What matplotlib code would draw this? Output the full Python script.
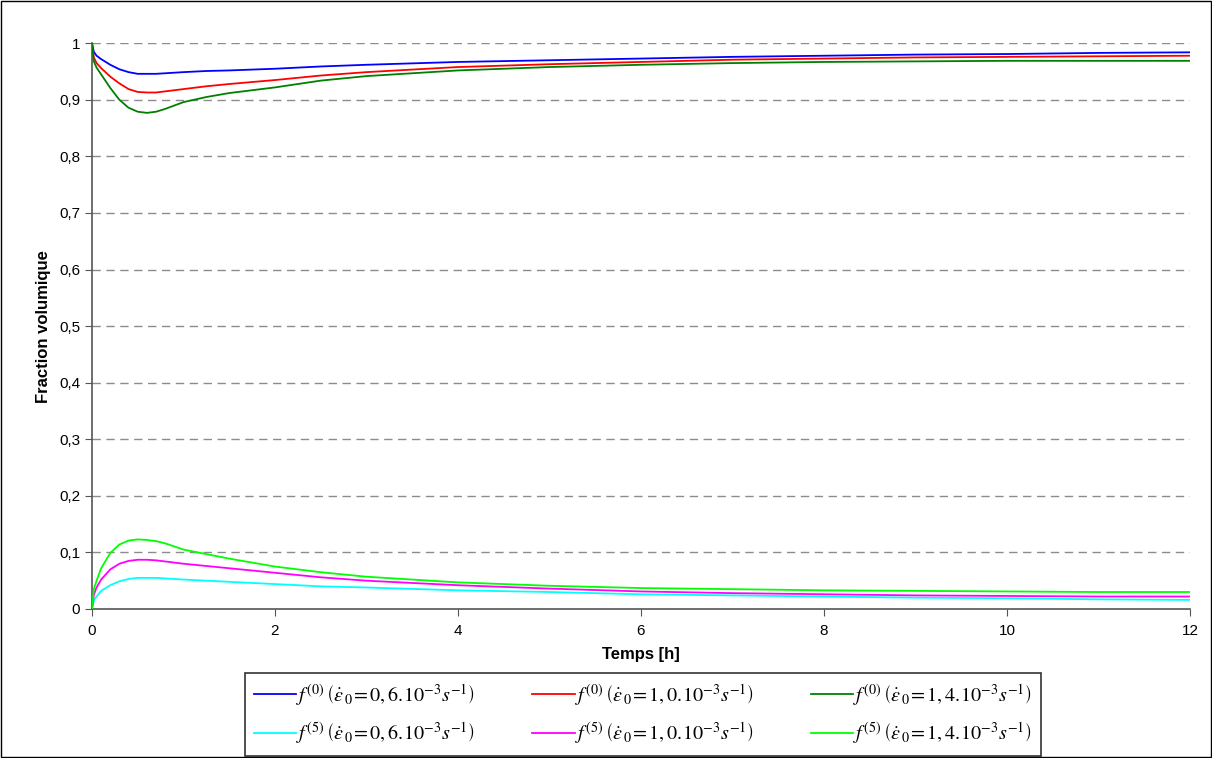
import matplotlib
matplotlib.use("Agg")
import matplotlib.pyplot as plt
import matplotlib.patches as mpatches

plt.rcParams['font.family'] = ['Liberation Sans', 'DejaVu Sans']
plt.rcParams['mathtext.fontset'] = 'stix'

# time in hours
temps = [0, 0.02, 0.05, 0.1, 0.2, 0.3, 0.4, 0.5, 0.6, 0.7, 0.8, 1.0, 1.25, 1.5,
         2, 2.5, 3, 4, 5, 6, 7, 8, 9, 10, 11, 12]

# volume fraction f(0)
f0_06 = [1.0, 0.985, 0.978, 0.972, 0.962, 0.954, 0.949, 0.946, 0.946, 0.946,
         0.947, 0.949, 0.951, 0.952, 0.955, 0.959, 0.962, 0.967, 0.970, 0.973,
         0.976, 0.978, 0.980, 0.981, 0.983, 0.984]
f0_10 = [1.0, 0.975, 0.965, 0.956, 0.941, 0.929, 0.919, 0.914, 0.913, 0.913,
         0.915, 0.919, 0.924, 0.928, 0.935, 0.943, 0.949, 0.958, 0.963, 0.967,
         0.971, 0.973, 0.975, 0.976, 0.977, 0.978]
f0_14 = [1.0, 0.968, 0.957, 0.945, 0.921, 0.900, 0.886, 0.879, 0.877, 0.879,
         0.884, 0.896, 0.905, 0.912, 0.922, 0.934, 0.942, 0.952, 0.958, 0.962,
         0.965, 0.967, 0.968, 0.969, 0.969, 0.969]

# volume fraction f(5)
f5_06 = [0, 0.015, 0.022, 0.032, 0.042, 0.049, 0.053, 0.055, 0.055, 0.055,
         0.054, 0.052, 0.050, 0.048, 0.044, 0.040, 0.038, 0.033, 0.030, 0.026,
         0.024, 0.022, 0.020, 0.019, 0.017, 0.016]
f5_10 = [0, 0.025, 0.038, 0.052, 0.070, 0.080, 0.085, 0.087, 0.087, 0.086,
         0.084, 0.080, 0.076, 0.072, 0.064, 0.056, 0.050, 0.042, 0.036, 0.031,
         0.028, 0.026, 0.024, 0.023, 0.022, 0.022]
f5_14 = [0, 0.035, 0.050, 0.072, 0.099, 0.114, 0.121, 0.123, 0.122, 0.120,
         0.116, 0.105, 0.097, 0.089, 0.075, 0.065, 0.057, 0.047, 0.041, 0.037,
         0.035, 0.033, 0.032, 0.031, 0.030, 0.030]

labels = [
    r'$f^{(0)}\,\left(\dot{\epsilon}_{\,0}\!=0,6.10^{-3}s^{-1}\right)$',
    r'$f^{(5)}\,\left(\dot{\epsilon}_{\,0}\!=0,6.10^{-3}s^{-1}\right)$',
    r'$f^{(0)}\,\left(\dot{\epsilon}_{\,0}\!=1,0.10^{-3}s^{-1}\right)$',
    r'$f^{(5)}\,\left(\dot{\epsilon}_{\,0}\!=1,0.10^{-3}s^{-1}\right)$',
    r'$f^{(0)}\,\left(\dot{\epsilon}_{\,0}\!=1,4.10^{-3}s^{-1}\right)$',
    r'$f^{(5)}\,\left(\dot{\epsilon}_{\,0}\!=1,4.10^{-3}s^{-1}\right)$',
]
series = [f0_06, f5_06, f0_10, f5_10, f0_14, f5_14]
colors = ['#0000ff', '#00ffff', '#ff0000', '#ff00ff', '#008000', '#00ff00']

yticks = [0, 0.1, 0.2, 0.3, 0.4, 0.5, 0.6, 0.7, 0.8, 0.9, 1.0]
ytick_labels = ['0', '0,1', '0,2', '0,3', '0,4', '0,5', '0,6', '0,7', '0,8', '0,9', '1']
xticks = [0, 2, 4, 6, 8, 10, 12]

fig = plt.figure(figsize=(12.12, 7.58), dpi=100)
ax = fig.add_axes([0.0759, 0.1966, 0.9059, 0.7463])

# dashed grid lines first so curves sit on top
for y in yticks[1:]:
    ax.axhline(y, color='#8c8c8c', linestyle=(0, (6, 4)), linewidth=1.0, zorder=1)

for vals, col, lab in zip(series, colors, labels):
    ax.plot(temps, vals, color=col, linewidth=1.3, label=lab, zorder=3)

ax.set_xlim(0, 12)
ax.set_ylim(0, 1)
ax.set_xticks(xticks)
ax.set_yticks(yticks)
ax.set_yticklabels(ytick_labels)
ax.tick_params(labelsize=11, length=5, color='#555555', direction='out')
ax.tick_params(axis='x', pad=6)

for side in ['top', 'right']:
    ax.spines[side].set_visible(False)
for side in ['left', 'bottom']:
    ax.spines[side].set_color('#555555')
    ax.spines[side].set_linewidth(1.2)

ax.set_xlabel('Temps [h]', fontsize=12, fontweight='bold', labelpad=6)
ax.set_ylabel('Fraction volumique', fontsize=12, fontweight='bold', labelpad=6)

leg = fig.legend(loc='center', bbox_to_anchor=(0.5305, 0.0574), ncol=3,
                 fontsize=14.5, handlelength=2.1, handletextpad=0.0,
                 columnspacing=2.85, frameon=True, fancybox=False,
                 borderpad=0.45, labelspacing=0.65)
leg.get_frame().set_edgecolor('black')
leg.get_frame().set_linewidth(1.2)

# outer border of the picture
fig.patches.append(mpatches.Rectangle((0.0008, 0.0013), 0.9984, 0.9974,
                                      transform=fig.transFigure, fill=False,
                                      edgecolor='black', linewidth=1.0))

plt.savefig("out.png")
